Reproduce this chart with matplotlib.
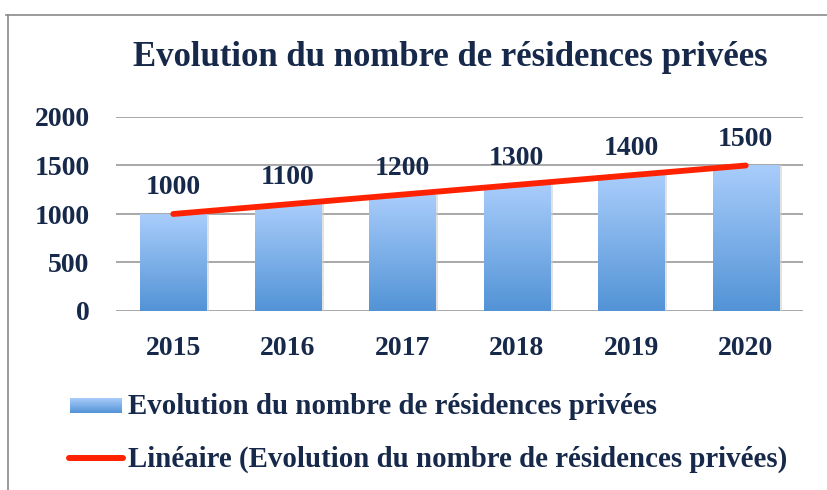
import numpy as np
import matplotlib
matplotlib.use("Agg")
import matplotlib.pyplot as plt
from matplotlib.lines import Line2D
from matplotlib.colors import LinearSegmentedColormap

years = ["2015", "2016", "2017", "2018", "2019", "2020"]
values = [1000, 1100, 1200, 1300, 1400, 1500]
yticks = [0, 500, 1000, 1500, 2000]
title = "Evolution du nombre de résidences privées"
legend_bar = "Evolution du nombre de résidences privées"
legend_line = "Linéaire (Evolution du nombre de résidences privées)"

W, H = 827, 490
fig = plt.figure(figsize=(W / 100, H / 100), dpi=100)
FONT = "Liberation Serif"
TXT = "#17294a"
plt.rcParams["font.family"] = FONT

ax = fig.add_axes([116 / W, 1 - 311 / H, (803 - 116) / W, (311 - 117) / H])
ax.set_xlim(-0.5, 5.5)
ax.set_ylim(0, 2000)

cmap = LinearSegmentedColormap.from_list("g", ["#5293d6", "#a9cdfb"])
grad = np.linspace(0, 1, 256).reshape(-1, 1)

x = np.arange(len(years))
# shadows
ax.bar(x + 0.025, values, width=0.58, color="#d0d0d0", alpha=0.6, zorder=2)
bars = ax.bar(x, values, width=0.58, color="#7fb0ea", zorder=3)
for b in bars:
    x0, y0 = b.get_x(), b.get_y()
    w, h = b.get_width(), b.get_height()
    im = ax.imshow(grad, cmap=cmap, extent=[x0, x0 + w, y0, y0 + h],
                   origin="lower", aspect="auto", zorder=3.5)
    im.set_clip_path(b)
ax.set_xlim(-0.5, 5.5)
ax.set_ylim(0, 2000)

# trend line (linear fit)
coef = np.polyfit(x, values, 1)
ax.plot([x[0], x[-1]], np.polyval(coef, [x[0], x[-1]]), color="#ff2200",
        lw=4.2, solid_capstyle="round", zorder=5)

for xi, v in zip(x, values):
    ax.annotate(str(v), (xi, v), xytext=(0, 19), textcoords="offset points",
                ha="center", va="center", fontsize=20, fontweight="bold",
                color=TXT, zorder=6)

ax.set_yticks(yticks)
ax.set_xticks(x)
ax.set_xticklabels(years)
ax.grid(axis="y", color="#a8a8a8", lw=1.4, zorder=0)
ax.set_axisbelow(True)
for s in ax.spines.values():
    s.set_visible(False)
ax.tick_params(length=0, labelsize=20, labelcolor=TXT, pad=0)
ax.tick_params(axis="y", pad=19)
ax.tick_params(axis="x", pad=18)
for lab in ax.get_xticklabels() + ax.get_yticklabels():
    lab.set_fontweight("bold")

fig.text(450 / W, 1 - 58 / H, title, ha="center", va="center",
         fontsize=25, fontweight="bold", color=TXT)

# frame
fig.add_artist(Line2D([8 / W, 8 / W], [0, 1 - 15 / H], color="#8a8a8a", lw=1.2))
fig.add_artist(Line2D([6 / W, 1], [1 - 15 / H, 1 - 15 / H], color="#8a8a8a", lw=1.2))

# legend
lax = fig.add_axes([0, 0, 1, 1], facecolor="none")
lax.imshow(grad, cmap=cmap, extent=[70, 122, 413, 398], origin="lower",
           aspect="auto")
lax.plot([69, 123], [458, 458], color="#ff2200", lw=4.3, solid_capstyle="round")
lax.set_xlim(0, W)
lax.set_ylim(H, 0)
lax.axis("off")
lax.text(128, 406, legend_bar, ha="left", va="center", fontsize=20.8,
         fontweight="bold", color=TXT)
lax.text(128, 459, legend_line, ha="left", va="center", fontsize=20.8,
         fontweight="bold", color=TXT)

fig.savefig("out.png", dpi=100)
